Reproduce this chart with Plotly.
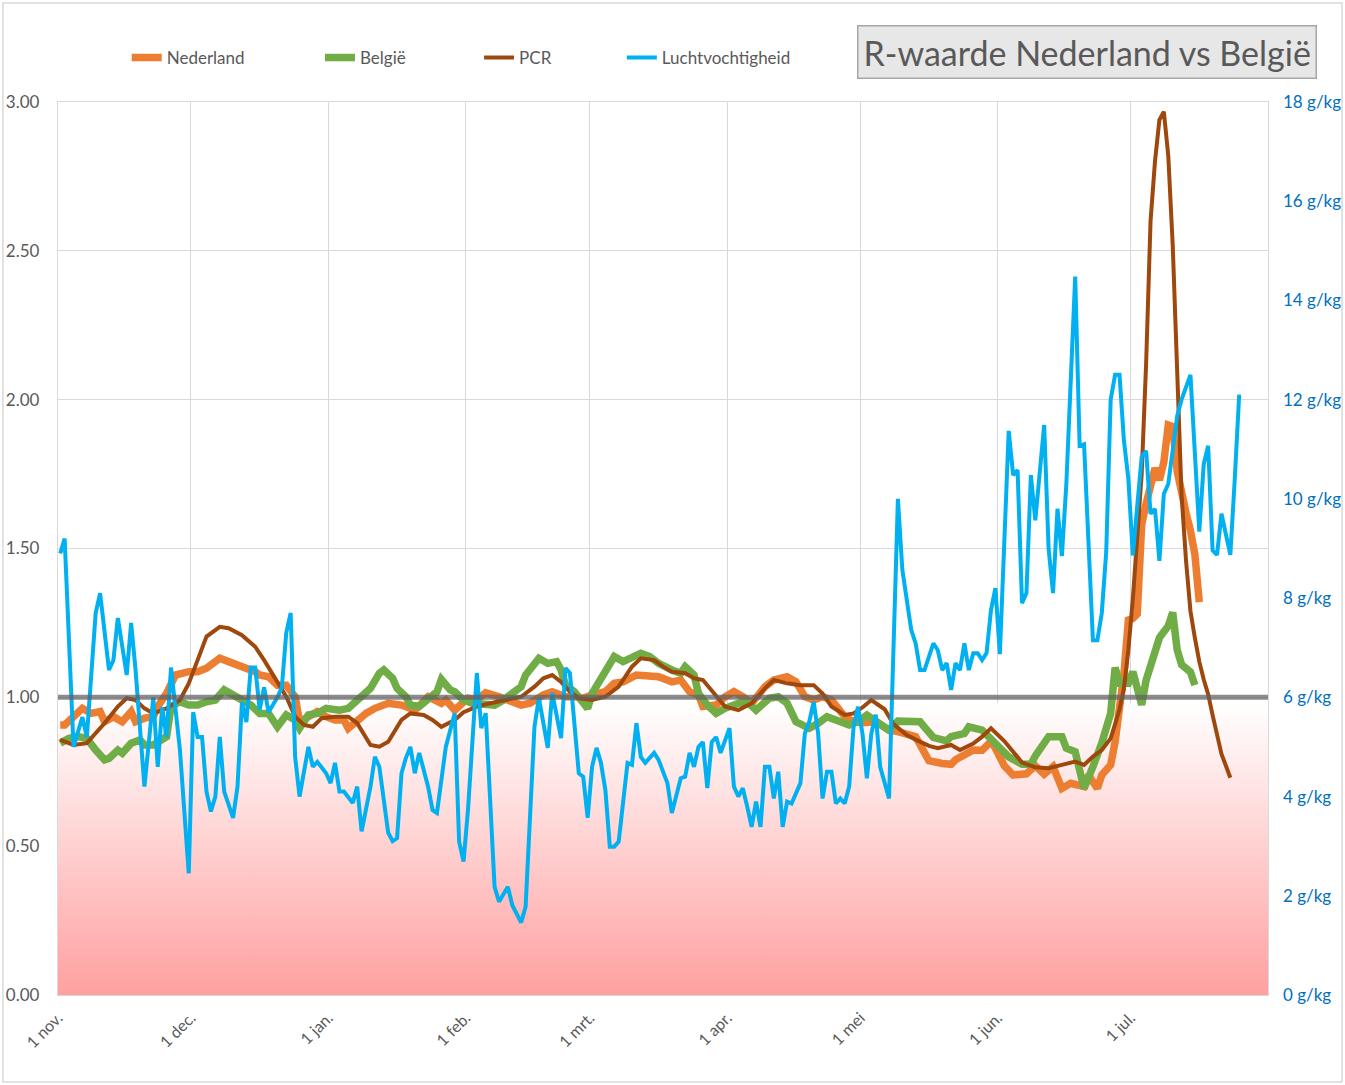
import plotly.graph_objects as go
from datetime import datetime, timedelta

# ---------------- data (day offset from 1 nov 2020, value) ----------------
start_date = datetime(2020, 11, 1)
axis_end_date = datetime(2021, 7, 31)

month_ticks = ["2020-11-01", "2020-12-01", "2021-01-01", "2021-02-01", "2021-03-01",
               "2021-04-01", "2021-05-01", "2021-06-01", "2021-07-01"]
month_labels = ["1 nov.", "1 dec.", "1 jan.", "1 feb.", "1 mrt.",
                "1 apr.", "1 mei", "1 jun.", "1 jul."]

nederland = [
    (0, 0.907), (1, 0.907), (3, 0.935), (5, 0.963), (7, 0.946), (9, 0.952), (10, 0.918),
    (12, 0.935), (14, 0.918), (16, 0.952), (17, 0.918), (19, 0.93), (21, 0.935), (22, 0.969),
    (24, 1.013), (26, 1.075), (29, 1.086), (31, 1.086), (33, 1.098), (36, 1.131), (38, 1.12),
    (40, 1.109), (42, 1.103), (44, 1.086), (45, 1.075), (47, 1.069), (49, 1.041), (51, 1.041),
    (53, 1.002), (54, 0.918), (56, 0.935), (58, 0.952), (60, 0.935), (62, 0.924), (64, 0.924),
    (65, 0.896), (69, 0.946), (71, 0.963), (74, 0.98), (77, 0.974), (80, 0.957), (83, 1.002),
    (86, 0.98), (87, 0.991), (89, 0.957), (92, 0.997), (94, 0.991), (96, 1.016), (99, 1.002),
    (102, 0.985), (104, 0.974), (106, 0.98), (109, 1.008), (111, 1.019), (114, 1.002),
    (116, 1.002), (118, 0.997), (120, 1.008), (123, 1.019), (125, 1.047), (127, 1.052),
    (130, 1.075), (132, 1.075), (135, 1.069), (138, 1.052), (140, 1.058), (142, 1.019),
    (144, 1.008), (145, 0.969), (148, 0.974), (150, 1.002), (152, 1.019), (154, 1.002),
    (156, 0.98), (159, 1.036), (161, 1.058), (164, 1.069), (166, 1.052), (168, 1.002),
    (170, 0.991), (172, 1.002), (174, 0.991), (177, 0.935), (179, 0.918), (181, 0.915),
    (184, 0.918), (187, 0.89), (189, 0.885), (193, 0.868), (194, 0.84), (196, 0.787),
    (199, 0.778), (201, 0.775), (202, 0.79), (204, 0.805), (206, 0.823), (208, 0.822),
    (210, 0.852), (211, 0.829), (213, 0.77), (215, 0.739), (218, 0.743), (220, 0.77),
    (222, 0.742), (224, 0.767), (226, 0.694), (228, 0.711), (231, 0.70), (232, 0.739),
    (234, 0.694), (235, 0.739), (237, 0.773), (238, 0.85), (239, 0.96), (240, 1.08),
    (241, 1.26), (242, 1.265), (243, 1.28), (244, 1.58), (245, 1.65), (246, 1.70),
    (247, 1.77), (248, 1.73), (249, 1.79), (250, 1.915), (251, 1.91), (252, 1.76),
    (253, 1.68), (254, 1.62), (255, 1.56), (256, 1.48), (257, 1.32),
]

belgie = [
    (0, 0.846), (2, 0.862), (4, 0.868), (6, 0.862), (8, 0.823), (10, 0.79), (11, 0.795),
    (13, 0.823), (14, 0.812), (16, 0.846), (18, 0.857), (19, 0.84), (21, 0.84), (24, 0.868),
    (25, 0.969), (27, 0.985), (29, 0.974), (31, 0.974), (33, 0.985), (35, 0.991), (37, 1.025),
    (39, 1.008), (41, 0.991), (43, 0.974), (45, 0.946), (47, 0.946), (49, 0.901), (51, 0.941),
    (53, 0.924), (54, 0.896), (56, 0.941), (58, 0.946), (60, 0.963), (63, 0.957), (65, 0.963),
    (68, 1.002), (70, 1.03), (72, 1.081), (73, 1.092), (75, 1.064), (76, 1.03), (78, 1.002),
    (79, 0.974), (81, 0.969), (83, 0.997), (85, 1.019), (86, 1.06), (88, 1.025), (89, 1.019),
    (91, 0.991), (93, 0.98), (96, 0.974), (98, 0.974), (100, 0.991), (102, 1.013),
    (104, 1.036), (105, 1.075), (107, 1.114), (108, 1.131), (110, 1.114), (112, 1.12),
    (113, 1.092), (114, 1.041), (116, 1.019), (117, 0.997), (119, 0.963), (120, 1.013),
    (122, 1.064), (123, 1.081), (125, 1.137), (127, 1.12), (129, 1.131), (131, 1.148),
    (133, 1.137), (135, 1.114), (138, 1.092), (140, 1.081), (141, 1.103), (143, 1.075),
    (144, 1.013), (146, 0.974), (148, 0.946), (150, 0.963), (153, 0.98), (155, 0.985),
    (157, 0.957), (160, 0.997), (162, 1.002), (164, 0.98), (166, 0.918), (169, 0.896),
    (171, 0.913), (173, 0.935), (175, 0.924), (178, 0.907), (180, 0.918), (182, 0.94),
    (184, 0.92), (187, 0.89), (189, 0.92), (192, 0.922), (194, 0.918), (195, 0.9),
    (197, 0.865), (200, 0.854), (201, 0.868), (204, 0.879), (205, 0.901), (208, 0.89),
    (210, 0.862), (212, 0.83), (214, 0.8), (217, 0.775), (219, 0.775), (220, 0.803),
    (222, 0.845), (223, 0.868), (226, 0.868), (227, 0.829), (229, 0.817), (230, 0.756),
    (231, 0.694), (233, 0.767), (235, 0.846), (237, 0.946), (238, 1.1), (239, 1.047),
    (241, 1.047), (242, 1.086), (243, 1.036), (244, 0.975), (245, 1.058), (246, 1.1),
    (247, 1.16), (248, 1.2), (249, 1.22), (250, 1.24), (251, 1.285), (252, 1.16),
    (253, 1.11), (254, 1.095), (255, 1.085), (256, 1.041),
]

pcr = [
    (0, 0.857), (3, 0.84), (6, 0.846), (7, 0.862), (10, 0.913), (13, 0.969), (15, 0.997),
    (17, 0.991), (19, 0.963), (21, 0.946), (24, 0.963), (27, 0.991), (29, 1.047), (31, 1.125),
    (33, 1.204), (36, 1.237), (38, 1.232), (41, 1.209), (44, 1.17), (46, 1.125), (48, 1.075),
    (51, 1.002), (53, 0.935), (55, 0.907), (57, 0.901), (59, 0.93), (62, 0.935), (65, 0.935),
    (67, 0.913), (70, 0.84), (72, 0.834), (74, 0.851), (77, 0.924), (79, 0.946), (82, 0.941),
    (84, 0.924), (86, 0.901), (89, 0.924), (91, 0.95), (94, 0.969), (97, 0.98), (101, 0.991),
    (104, 1.002), (107, 1.036), (109, 1.064), (111, 1.075), (113, 1.052), (115, 1.019),
    (117, 0.997), (120, 0.991), (123, 1.002), (126, 1.036), (129, 1.103), (131, 1.131),
    (134, 1.125), (136, 1.103), (138, 1.086), (141, 1.081), (143, 1.064), (145, 1.058),
    (148, 1.002), (150, 0.969), (153, 0.957), (156, 0.98), (159, 1.03), (161, 1.058),
    (164, 1.047), (167, 1.041), (170, 1.041), (172, 1.013), (174, 0.969), (177, 0.941),
    (179, 0.946), (181, 0.966), (183, 0.991), (186, 0.96), (188, 0.91), (191, 0.873),
    (193, 0.858), (196, 0.837), (198, 0.829), (201, 0.84), (203, 0.823), (206, 0.845),
    (208, 0.868), (210, 0.896), (213, 0.853), (215, 0.817), (217, 0.781), (220, 0.765),
    (223, 0.762), (226, 0.773), (229, 0.784), (231, 0.773), (233, 0.801), (235, 0.823),
    (237, 0.862), (238, 0.91), (239, 0.96), (240, 1.03), (241, 1.16), (242, 1.33),
    (243, 1.55), (244, 1.75), (245, 2.12), (246, 2.6), (247, 2.8), (248, 2.94), (249, 2.967),
    (250, 2.82), (251, 2.52), (252, 2.05), (253, 1.68), (254, 1.46), (255, 1.29), (256, 1.2),
    (257, 1.12), (258, 1.06), (259, 1.01), (260, 0.94), (261, 0.88), (262, 0.81),
    (263, 0.77), (264, 0.73),
]

luchtvochtigheid = [
    (0, 8.9), (1, 9.2), (3, 5.0), (5, 5.6), (6, 5.2), (8, 7.7), (9, 8.1), (11, 6.55),
    (12, 6.75), (13, 7.6), (15, 6.45), (16, 7.5), (17, 6.55), (19, 4.2), (21, 6.0), (22, 4.6),
    (23, 5.8), (24, 5.2), (25, 6.6), (27, 4.95), (29, 2.45), (30, 5.7), (31, 5.2), (32, 5.2),
    (33, 4.1), (34, 3.7), (35, 4.0), (36, 5.2), (37, 4.1), (39, 3.57), (40, 4.2), (41, 5.9),
    (42, 5.5), (43, 6.6), (44, 6.6), (45, 5.75), (46, 6.2), (47, 5.7), (49, 6.0), (50, 6.2),
    (51, 7.3), (52, 7.7), (53, 4.8), (54, 4.0), (56, 5.0), (57, 4.6), (58, 4.7), (60, 4.47),
    (61, 4.27), (62, 4.68), (63, 4.1), (64, 4.1), (66, 3.87), (67, 4.2), (68, 3.3), (70, 4.2),
    (71, 4.8), (72, 4.6), (74, 3.27), (75, 3.1), (76, 3.16), (77, 4.47), (78, 4.78), (79, 5.0),
    (80, 4.47), (81, 4.88), (83, 4.2), (84, 3.73), (85, 3.67), (87, 5.0), (88, 5.34),
    (89, 5.68), (90, 3.09), (91, 2.69), (92, 3.73), (94, 6.49), (95, 5.38), (96, 5.68),
    (98, 2.18), (99, 1.88), (101, 2.18), (102, 1.81), (104, 1.46), (105, 1.78), (107, 5.41),
    (108, 5.99), (110, 4.98), (111, 6.09), (113, 5.18), (114, 6.59), (115, 6.49), (117, 4.47),
    (118, 4.4), (119, 3.57), (120, 4.6), (121, 4.98), (122, 4.68), (123, 4.13), (124, 2.99),
    (125, 2.99), (126, 3.09), (128, 4.68), (129, 4.64), (130, 5.48), (131, 4.8), (132, 4.68),
    (134, 4.88), (135, 4.74), (137, 4.27), (138, 3.67), (140, 4.37), (141, 4.4), (142, 4.88),
    (143, 4.6), (144, 5.0), (145, 5.1), (146, 4.17), (147, 5.1), (148, 5.2), (149, 4.88),
    (151, 5.38), (152, 4.2), (153, 4.0), (154, 4.17), (155, 3.8), (156, 3.39), (157, 3.9),
    (158, 3.39), (159, 4.6), (160, 4.6), (161, 3.96), (162, 4.5), (163, 3.39), (164, 3.9),
    (165, 3.86), (167, 4.27), (168, 5.27), (169, 5.51), (170, 5.91), (171, 5.27), (172, 3.96),
    (173, 4.5), (174, 4.5), (175, 3.86), (176, 3.96), (177, 3.86), (178, 4.2), (179, 5.41),
    (180, 5.81), (181, 5.27), (182, 4.37), (183, 5.27), (184, 5.65), (185, 4.6), (187, 3.96),
    (189, 10.0), (190, 8.57), (192, 7.36), (193, 7.09), (194, 6.55), (195, 6.55), (197, 7.09),
    (198, 6.95), (199, 6.55), (200, 6.69), (201, 6.15), (202, 6.69), (203, 6.55), (204, 7.09),
    (205, 6.55), (206, 6.89), (207, 6.89), (208, 6.75), (209, 6.89), (210, 7.76), (211, 8.2),
    (212, 6.87), (214, 11.37), (215, 10.48), (216, 10.58), (217, 7.9), (218, 8.1),
    (219, 10.48), (220, 9.57), (222, 11.49), (223, 9.0), (224, 8.1), (225, 9.8), (226, 8.85),
    (227, 10.3), (229, 14.48), (230, 11.07), (231, 11.1), (232, 9.1), (233, 7.15), (234, 7.15),
    (235, 7.7), (236, 8.93), (237, 12.0), (238, 12.5), (239, 12.5), (240, 11.17), (241, 10.4),
    (242, 8.86), (244, 10.85), (245, 10.97), (246, 9.7), (247, 9.8), (248, 8.75), (249, 10.1),
    (250, 10.3), (252, 11.67), (253, 12.0), (255, 12.5), (256, 11.0), (257, 9.34),
    (258, 10.7), (259, 11.07), (260, 8.96), (261, 8.87), (262, 9.7), (264, 8.87),
    (265, 10.4), (266, 12.1),
]

r_threshold = 1.0          # grey reference line
danger_band_top = 0.98     # top of the red gradient band

# ---------------- helpers ----------------
def split(series):
    xs = [start_date + timedelta(days=d) for d, _ in series]
    ys = [v for _, v in series]
    return xs, ys

half_day = timedelta(hours=12)   # Excel places daily points between tick marks
x_left = start_date - half_day
x_right = axis_end_date + half_day
tick_positions = [datetime.fromisoformat(t) - half_day for t in month_ticks]

FONT = "Lato"
GREY_TXT = "#595959"

fig = go.Figure()

# red gradient band below R = 1
fig.add_trace(go.Scatter(
    x=[x_left, x_right, x_right, x_left, x_left],
    y=[0, 0, danger_band_top, danger_band_top, 0],
    mode="lines", fill="toself", line=dict(width=0),
    fillgradient=dict(type="vertical", start=0, stop=danger_band_top,
                      colorscale=[[0, "#FFA0A0"], [1, "#FFFFFF"]]),
    showlegend=False, hoverinfo="skip"))

x, y = split(nederland)
fig.add_trace(go.Scatter(x=x, y=y, name="Nederland", mode="lines",
                         line=dict(color="#ED7D31", width=7.5), legend="legend"))
x, y = split(belgie)
fig.add_trace(go.Scatter(x=x, y=y, name="België", mode="lines",
                         line=dict(color="#70AD47", width=7.5), legend="legend2"))
x, y = split(pcr)
fig.add_trace(go.Scatter(x=x, y=y, name="PCR", mode="lines",
                         line=dict(color="#9E480E", width=4), legend="legend3"))
x, y = split(luchtvochtigheid)
fig.add_trace(go.Scatter(x=x, y=y, name="Luchtvochtigheid", mode="lines",
                         line=dict(color="#00B0F0", width=4), yaxis="y2",
                         legend="legend4"))

# grey line at R = 1
fig.add_shape(type="line", xref="paper", x0=0, x1=1, yref="y",
              y0=r_threshold, y1=r_threshold, layer="above",
              line=dict(color="rgba(95,95,95,0.72)", width=5))

# outer chart border
fig.add_shape(type="rect", xref="paper", yref="paper",
              x0=-0.0455, x1=1.0612, y0=-0.0974, y1=1.1109,
              line=dict(color="#D9D9D9", width=1.5), layer="below")

# title box
fig.add_annotation(xref="paper", yref="paper", x=0.8504, y=1.0560,
                   xanchor="center", yanchor="middle", showarrow=False,
                   text="R-waarde Nederland vs België",
                   font=dict(family=FONT, size=34, color=GREY_TXT),
                   bgcolor="#E7E7E7", bordercolor="#A6A6A6", borderwidth=1.5,
                   borderpad=5)

legend_common = dict(orientation="h", yanchor="middle", y=1.0493, xanchor="left",
                     bgcolor="rgba(0,0,0,0)",
                     font=dict(family=FONT, size=17, color=GREY_TXT))

fig.update_layout(
    width=1345, height=1085,
    margin=dict(l=58, r=77, t=102, b=90, autoexpand=False),
    paper_bgcolor="white", plot_bgcolor="white",
    font=dict(family=FONT, color=GREY_TXT),
    legend=dict(x=0.0568, **legend_common),
    legend2=dict(x=0.2165, **legend_common),
    legend3=dict(x=0.3480, **legend_common),
    legend4=dict(x=0.4660, **legend_common),
    xaxis=dict(type="date", range=[x_left, x_right], automargin=False,
               tickmode="array", tickvals=tick_positions, ticktext=month_labels,
               tickangle=-45, tickfont=dict(family=FONT, size=16, color=GREY_TXT),
               showgrid=True, gridcolor="#D9D9D9", gridwidth=1.3,
               showline=True, linecolor="#D9D9D9", linewidth=1.3, mirror=True,
               ticks="", zeroline=False, ticklabelstandoff=6),
    yaxis=dict(range=[0, 3], tick0=0, dtick=0.5, tickformat=".2f", automargin=False,
               tickfont=dict(family=FONT, size=17, color=GREY_TXT),
               showgrid=True, gridcolor="#D9D9D9", gridwidth=1.3,
               showline=True, linecolor="#D9D9D9", linewidth=1.3, mirror=True,
               zeroline=False, ticks="", ticklabelstandoff=14),
    yaxis2=dict(range=[0, 18], tick0=0, dtick=2, ticksuffix=" g/kg", automargin=False,
                overlaying="y", side="right", showgrid=False, zeroline=False,
                tickfont=dict(family=FONT, size=17, color="#0070C0"),
                ticks="", ticklabelstandoff=14),
)

fig.write_html("out.html")
